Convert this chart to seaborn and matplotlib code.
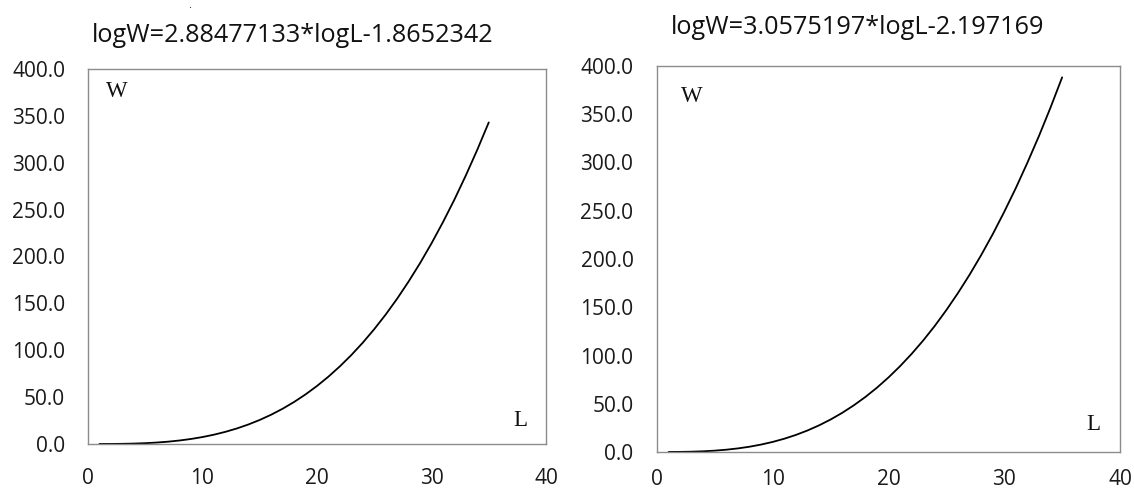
import pandas as pd
import matplotlib
matplotlib.use("Agg")
import matplotlib.pyplot as plt
from matplotlib.ticker import FormatStrFormatter
import seaborn as sns

sns.set_style("white")
plt.rcParams['font.family'] = ['Open Sans', 'DejaVu Sans']

# length L (same grid for both panels)
length = list(range(1, 36))

# weight W
weight_left = [0.01, 0.05, 0.19, 0.45, 0.89, 1.55, 2.49, 3.75, 5.37, 7.42,
               9.94, 12.97, 16.57, 20.79, 25.67, 31.27, 37.64, 44.83, 52.91, 61.90,
               71.86, 82.85, 94.91, 108.1, 122.5, 138.1, 155.0, 173.3, 192.9, 214.0,
               236.6, 260.7, 286.5, 313.9, 343.0]

# weight W
weight_right = [0.01, 0.10, 0.32, 0.74, 1.42, 2.40, 3.74, 5.49, 7.72, 10.46,
                13.77, 17.70, 22.29, 27.61, 33.69, 40.58, 48.35, 57.01, 66.63, 77.27,
                88.94, 101.7, 115.6, 130.7, 147.1, 164.7, 183.6, 203.9, 225.6, 248.9,
                273.5, 299.8, 327.5, 357.0, 388.2]

titles = ["logW=2.88477133*logL-1.8652342", "logW=3.0575197*logL-2.197169"]
x_ticks = [0, 10, 20, 30, 40]
y_ticks = [0, 50, 100, 150, 200, 250, 300, 350, 400]

fig = plt.figure(figsize=(11.34, 4.9), dpi=100)
ax_l = fig.add_axes([88 / 1134, 46 / 490, 458 / 1134, 375 / 490])
ax_r = fig.add_axes([657 / 1134, 38 / 490, 463 / 1134, 386 / 490])

panels = [
    (ax_l, weight_left, (0.063, 0.941), (0.943, 0.064), 16.5, 17),
    (ax_r, weight_right, (0.076, 0.922), (0.942, 0.07), 17, 12),
]

for ax, w, w_pos, l_pos, ypad, xpad in panels:
    df = pd.DataFrame({'L': length, 'W': w})
    sns.lineplot(data=df, x='L', y='W', ax=ax, color='black', linewidth=1.3)
    ax.set_xlim(0, 40)
    ax.set_ylim(0, 400)
    ax.set_xticks(x_ticks)
    ax.set_yticks(y_ticks)
    ax.yaxis.set_major_formatter(FormatStrFormatter('%.1f'))
    ax.set_xlabel('')
    ax.set_ylabel('')
    ax.tick_params(axis='both', length=0, labelsize=15, colors='#1a1a1a')
    ax.tick_params(axis='y', pad=ypad)
    ax.tick_params(axis='x', pad=xpad)
    for s in ax.spines.values():
        s.set_color('#8c8c8c')
        s.set_linewidth(1.0)
    ax.text(w_pos[0], w_pos[1], 'W', transform=ax.transAxes, ha='center', va='center',
            fontsize=16.5, family='Liberation Serif', color='#111111')
    ax.text(l_pos[0], l_pos[1], 'L', transform=ax.transAxes, ha='center', va='center',
            fontsize=16.5, family='Liberation Serif', color='#111111')

fig.text(293 / 1134, 1 - 36 / 490, titles[0], ha='center', va='center', fontsize=18.2, color='#111111')
fig.text(858 / 1134, 1 - 28 / 490, titles[1], ha='center', va='center', fontsize=18.2, color='#111111')
fig.text(190 / 1134, 1 - 5 / 490, '.', ha='center', va='center', fontsize=8, color='#333333')

fig.savefig('out.png', dpi=100)
